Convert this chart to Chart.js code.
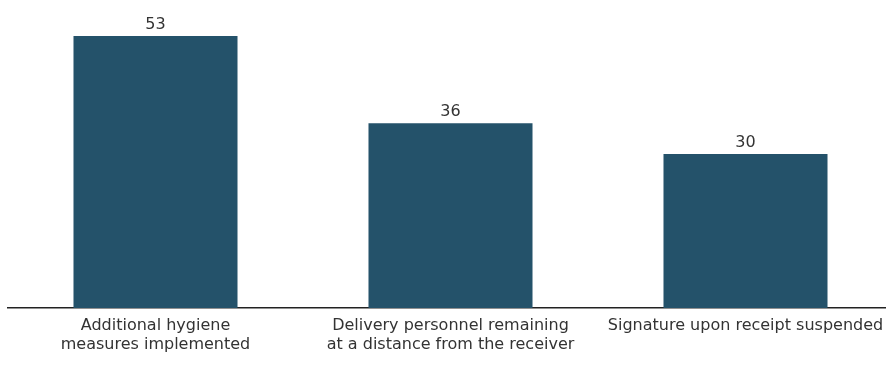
<!DOCTYPE html>
<html>
<head>
<meta charset="utf-8">
<script src="https://cdn.jsdelivr.net/npm/chart.js@4/dist/chart.umd.min.js"></script>
<style>
  html, body { margin: 0; padding: 0; background: #fff; overflow: hidden; }
  #wrap { width: 893px; height: 366px; }
</style>
</head>
<body>
<div id="wrap"><canvas id="chart"></canvas></div>
<script>
"use strict";

const categories = [
    ["Additional hygiene", "measures implemented"],
    ["Delivery personnel remaining", "at a distance from the receiver"],
    "Signature upon receipt suspended"
]
const values = [53, 36, 30]

const barColour = "#24526a"
const textColour = "#333333"
const fontFamily = "'DejaVu Sans', sans-serif"

// value labels over the bars
const valueLabels = {
    id: "valueLabels",
    afterDatasetsDraw(chart) {
        const ctx = chart.ctx
        const meta = chart.getDatasetMeta(0)
        ctx.save()
        ctx.font = "16px " + fontFamily
        ctx.fillStyle = textColour
        ctx.textAlign = "center"
        ctx.textBaseline = "bottom"
        meta.data.forEach((bar, i) => {
            ctx.fillText(values[i], bar.x, bar.y - 3)
        })
        ctx.restore()
    }
}

const config = {
    type: "bar",
    data: {
        labels: categories,
        datasets: [
            {
                data: values,
                backgroundColor: barColour,
                barPercentage: 0.556,
                categoryPercentage: 1
            }
        ]
    },
    options: {
        responsive: true,
        maintainAspectRatio: false,
        animation: false,
        layout: { padding: { left: 8, top: 0, right: 0, bottom: 0 } },
        plugins: {
            legend: { display: false },
            tooltip: { enabled: false }
        },
        scales: {
            x: {
                grid: { display: false, drawTicks: false },
                border: { display: true, color: "#222", width: 1.5 },
                ticks: {
                    color: textColour,
                    font: { family: fontFamily, size: 16 },
                    padding: 8,
                    maxRotation: 0,
                    autoSkip: false
                },
                afterFit: s => { s.height = 58 }
            },
            y: {
                display: false,
                min: 0,
                max: 60
            }
        }
    },
    plugins: [valueLabels]
}

new Chart(document.getElementById("chart"), config)
</script>
</body>
</html>
